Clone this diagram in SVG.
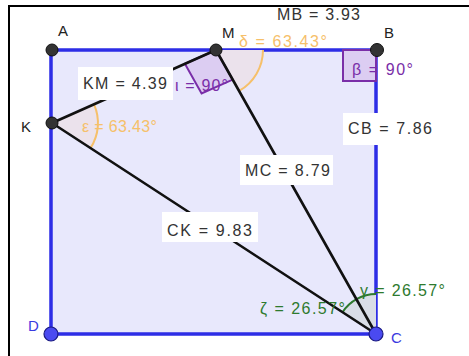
<svg xmlns="http://www.w3.org/2000/svg" width="469" height="356" viewBox="0 0 469 356">
<style>
text{font-family:"Liberation Sans",Arial,sans-serif}
.pl{font-size:15px;fill:#222}
.lb{font-size:16px;fill:#333}
.box{fill:#fff}
.seg{stroke:#111;stroke-width:2.6;stroke-linecap:round;fill:none}
.pt{fill:#333;stroke:#111;stroke-width:1}
.bpt{fill:#4a4af0;stroke:#1a1a80;stroke-width:1.2}
.org{font-size:16px;fill:#f6c06a}
.pur{font-size:16px;fill:#7a2ea8}
.grn{font-size:16px;fill:#2e7a2e}
</style>
<rect width="469" height="356" fill="#fff"/>
<g id="frame"><path d="M9 356 V6 H469" fill="none" stroke="#000" stroke-width="2"/></g>
<g id="square"><rect x="51" y="50" width="325" height="284" fill="#e8e8fc" stroke="#2d2de6" stroke-width="3.5"/></g>
<g id="angles">
<path d="M216 50 L263 50 A47 47 0 0 1 239.1 90.9 Z" fill="#ebe2ec" stroke="none"/>
<path d="M263 50 A47 47 0 0 1 239.1 90.9" fill="none" stroke="#f6c06a" stroke-width="2"/>
<path d="M52 123 L94 104.3 A46 46 0 0 1 90.5 148.1 Z" fill="#ebe2ec"/>
<path d="M94 104.3 A46 46 0 0 1 90.5 148.1" fill="none" stroke="#f6c06a" stroke-width="2"/>
<path d="M216 50 L184.9 63.8 L201.6 93.4 L232.7 79.6 Z" fill="#dccdf2" stroke="#7a2ea8" stroke-width="2"/>
<rect x="343" y="50" width="33" height="31" fill="#dccdf2" stroke="#7a2ea8" stroke-width="2"/>
<path d="M376 334 L342.5 312.2 A40 40 0 0 1 356.4 299.2 Z" fill="#d9dde6"/>
<path d="M376 334 L356.4 299.2 A40 40 0 0 1 376 294 Z" fill="#d9dde6"/>
<path d="M342.5 312.2 A40 40 0 0 1 376 294" fill="none" stroke="#2e7a2e" stroke-width="2"/>
</g>
<g id="connectors">
<line class="seg" x1="52" y1="123" x2="216" y2="50"/>
<line class="seg" x1="52" y1="123" x2="376" y2="334"/>
<line class="seg" x1="216" y1="50" x2="376" y2="334"/>
</g>
<g id="labels">
<rect class="box" x="78" y="67" width="95" height="33"/>
<text class="lb" x="83" y="89" textLength="84">KM = 4.39</text>
<rect class="box" x="240" y="155" width="93" height="30"/>
<text class="lb" x="245" y="176" textLength="85">MC = 8.79</text>
<rect class="box" x="162" y="212" width="96" height="30"/>
<text class="lb" x="167" y="236" textLength="85">CK = 9.83</text>
<rect class="box" x="343" y="113" width="92" height="32"/>
<text class="lb" x="348" y="134" textLength="84">CB = 7.86</text>
<text class="lb" x="277" y="20" textLength="83">MB = 3.93</text>
<text class="org" x="239" y="47" textLength="88">δ = 63.43°</text>
<text class="org" x="82" y="132" textLength="75">ε = 63.43°</text>
<text class="pur" x="352" y="75" textLength="61">β = 90°</text>
<text class="pur" x="175" y="91" textLength="53">ι = 90°</text>
<text class="grn" x="360" y="296" textLength="85">γ = 26.57°</text>
<text class="grn" x="260" y="314" textLength="85">ζ = 26.57°</text>
</g>
<g id="A"><circle class="pt" cx="52" cy="50" r="6"/><text class="pl" x="58" y="36">A</text></g>
<g id="M"><circle class="pt" cx="216" cy="50" r="6"/><text class="pl" x="222" y="38">M</text></g>
<g id="B"><circle class="pt" cx="377" cy="50" r="6.5"/><text class="pl" x="384" y="38">B</text></g>
<g id="K"><circle class="pt" cx="52" cy="123" r="6"/><text class="pl" x="21" y="132">K</text></g>
<g id="D"><circle class="bpt" cx="51" cy="334" r="7"/><text class="pl" x="28" y="331" style="fill:#3a3ae0">D</text></g>
<g id="C"><circle class="bpt" cx="376" cy="334" r="7"/><text class="pl" x="391" y="343" style="fill:#3a3ae0">C</text></g>
</svg>
